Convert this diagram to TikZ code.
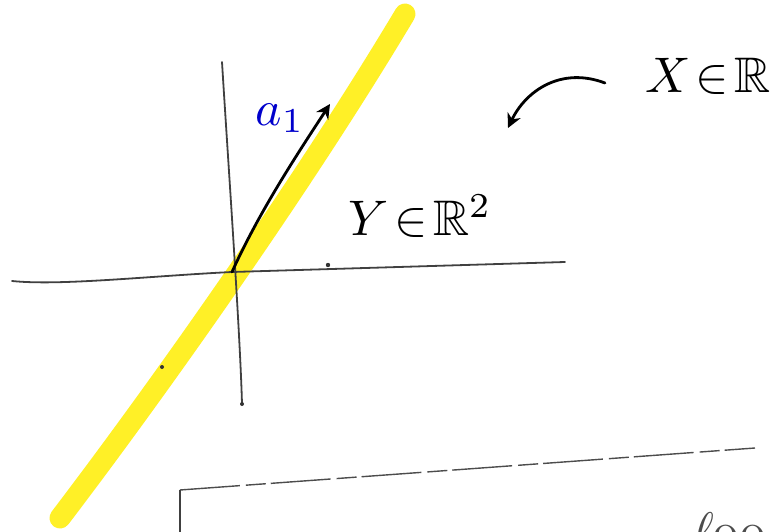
\documentclass[tikz,border=0pt]{standalone}
\usepackage{amsmath}
\usepackage{amssymb}
\usetikzlibrary{arrows.meta, positioning}
\tikzstyle{axis} = [black!75, line width=1.8pt, line cap=round]
\tikzstyle{pen} = [black, line width=2.8pt, line cap=round]
\tikzstyle{marker} = [yellow!95!orange, line width=21pt, line cap=round, opacity=0.85]
\tikzstyle{hand} = [inner sep=0pt, font=\normalsize, scale=5]
\tikzstyle{arrow} = [pen, -{Stealth[length=5mm, width=5mm]}]

\begin{document}
\begin{tikzpicture}[x=1pt, y=-1pt]
    \useasboundingbox (0,0) rectangle (780,532);
    \clip (0,0) rectangle (780,532);
    % highlighted line through the origin
    \draw[marker] (60,518) .. controls (150,400) and (300,190) .. (405,14);
    % axes
    \coordinate (O) at (232,272);
    \draw[axis] (222,62) .. controls (228,160) and (240,330) .. (242,404);
    \draw[axis] (12,281) .. controls (60,286) and (150,276) .. (O)
                -- (565,262);
    \fill[black!80] (328,265) circle (2.2pt);
    \fill[black!80] (242,404) circle (2pt);
    \fill[black!80] (162,367) circle (2pt);
    % vector a_1
    \coordinate (tip) at (330,104);
    \draw[arrow] (O) .. controls (260,210) and (300,150) .. (tip);
    \node[hand, text=blue!80!black] (alab) at (280,118) {$a_{1}$};
    % labels
    \node[hand] (ylab) at (420,216) {$Y\!\in\!\mathbb{R}^{2}$};
    \node[hand] (xlab) at (708,76) {$X\!\in\!\mathbb{R}$};
    \coordinate (xstart) at (605,83);
    \coordinate (xend) at (508,128);
    \draw[arrow] (xstart) .. controls (560,66) and (525,92) .. (xend);
    % box at the bottom
    \coordinate (boxc) at (180,490);
    \draw[black!70, line width=1.4pt, dash pattern=on 60pt off 6pt on 20pt off 5pt]
        (boxc) -- (755,448);
    \draw[black!75, line width=1.6pt] (boxc) -- (180,540);
    \node[hand, black!70, anchor=north west] (ftext) at (692,512) {$\ell$oo};
\end{tikzpicture}
\end{document}
